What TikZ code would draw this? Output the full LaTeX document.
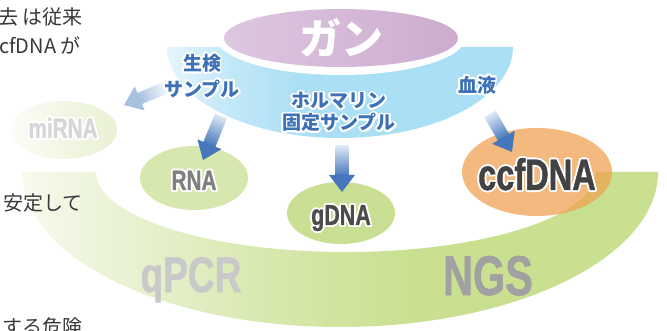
\documentclass[tikz,border=0pt]{standalone}
\usepackage{fontspec}
\usepackage{contour}
\usetikzlibrary{shapes.geometric}
\setmainfont{Noto Sans CJK JP}
\newfontfamily\jpfont{Noto Sans CJK JP}
\newfontfamily\condfont{Liberation Sans Bold}[FakeStretch=0.74,FakeBold=1]
\contourlength{1.8pt}
\contournumber{16}

% palette
\definecolor{txtgray}{HTML}{383838}
\definecolor{labblue}{HTML}{3D70B4}
\definecolor{bbpale}{HTML}{E6F5FC}
\definecolor{bbmid}{HTML}{C2E8F8}
\definecolor{bbfull}{HTML}{AADFF5}
\definecolor{purpL}{HTML}{DDC7E0}
\definecolor{purpR}{HTML}{CDACCE}
\definecolor{gbpale}{HTML}{F7FAEE}
\definecolor{gbA}{HTML}{E6F0CC}
\definecolor{gbB}{HTML}{D5E7A9}
\definecolor{gbfull}{HTML}{C8E08F}
\definecolor{mirnaL}{HTML}{FBFDF6}
\definecolor{mirnaR}{HTML}{E9F1D3}
\definecolor{rnagreen}{HTML}{D6E8AD}
\definecolor{gdnagreen}{HTML}{C9E094}
\definecolor{ccforange}{HTML}{F4B97F}
\definecolor{ovlorange}{HTML}{E3B360}
\definecolor{arrtail}{HTML}{DDE8F5}
\definecolor{arrhead}{HTML}{4677BC}
\definecolor{arrtailfade}{HTML}{F0F5FB}
\definecolor{arrheadfade}{HTML}{A7C0E0}

% band shadings (path box maps onto 25bp..75bp)
\pgfdeclarehorizontalshading{blueband}{100bp}{color(0bp)=(bbpale); color(25bp)=(bbpale); color(34bp)=(bbmid); color(45bp)=(bbfull); color(100bp)=(bbfull)}
\pgfdeclarehorizontalshading{greenband}{100bp}{color(0bp)=(gbpale); color(25bp)=(gbpale); color(35bp)=(gbA); color(46bp)=(gbB); color(56bp)=(gbfull); color(100bp)=(gbfull)}

% fat arrow with a shaded shaft and a solid head, from #1 to #2
\newcommand\gradarrow[5]{%
  \pgfpointdiff{\pgfpointanchor{#1}{center}}{\pgfpointanchor{#2}{center}}%
  \pgfgetlastxy{\arrdx}{\arrdy}%
  \pgfmathsetmacro\arrlen{veclen(\arrdx,\arrdy)}%
  \pgfmathsetmacro\arrang{atan2(\arrdy,\arrdx)}%
  \begin{scope}[transform canvas={shift={(#1)},rotate=\arrang}]
    \shade[left color=#3,right color=#4]
      (0pt,-#5pt) -- ({\arrlen pt-16pt},-#5pt) -- ({\arrlen pt-16pt},#5pt) -- (0pt,#5pt) -- cycle;
    \fill[#4] ({\arrlen pt-17pt},-13pt) -- (\arrlen pt,0pt) -- ({\arrlen pt-17pt},13pt) -- cycle;
  \end{scope}}

\begin{document}
\begin{tikzpicture}[x=1pt,y=-1pt,
  lefttext/.style={inner sep=0pt,text=txtgray,font=\jpfont\fontsize{20pt}{24pt}\selectfont},
  samplelab/.style={inner sep=0pt,align=center,text=labblue,font=\jpfont\bfseries\fontsize{19pt}{#1}\selectfont},
  blob/.style={ellipse,inner sep=0pt,draw=none},
  dnalabel/.style={inner sep=0pt,anchor=base,font=\condfont\fontsize{#1pt}{#1pt}\selectfont},
  methodlabel/.style={inner sep=0pt,anchor=base,font=\condfont\fontsize{#1pt}{#1pt}\selectfont}
]
\useasboundingbox (0,0) rectangle (667,331);

% lower green band (analysis methods)
\shade[shading=greenband] (22,172) arc[start angle=180,end angle=0,x radius=318,y radius=155]
  -- (596,172) arc[start angle=0,end angle=180,x radius=250,y radius=80] -- cycle;

% upper blue band (sample types)
\shade[shading=blueband] (167,47) arc[start angle=180,end angle=0,x radius=173,y radius=91] -- cycle;
\fill[white] (341,37) ellipse [x radius=125,y radius=38];

% cancer
\node[blob,minimum width=234pt,minimum height=58pt,left color=purpL,right color=purpR,
      text=white,font=\jpfont\bfseries\fontsize{42pt}{44pt}\selectfont] (cancer) at (341,38) {ガン};

% analytes
\node[blob,minimum width=106pt,minimum height=58pt,left color=mirnaL,right color=mirnaR] (mirna) at (64,130) {};
\node[blob,minimum width=108pt,minimum height=64pt,fill=rnagreen] (rna) at (194,178) {};
\node[blob,minimum width=108pt,minimum height=62pt,fill=gdnagreen] (gdna) at (341,213) {};
\node[blob,minimum width=150pt,minimum height=88pt,fill=ccforange] (ccfdna) at (537,172) {};
% where the orange blob lies over the green band
\begin{scope}
  \clip (537,172) ellipse [x radius=75,y radius=44];
  \fill[ovlorange] (22,172) arc[start angle=180,end angle=0,x radius=318,y radius=155]
    -- (596,172) arc[start angle=0,end angle=180,x radius=250,y radius=80] -- cycle;
\end{scope}

\node[dnalabel=28,text=black!16] (mirnatxt) at (63,138) {\contour{white}{miRNA}};
\node[dnalabel=28,text=black!50] (rnatxt) at (194,190) {\contour{white}{RNA}};
\node[dnalabel=29,text=black!70] (gdnatxt) at (341,225) {\contour{white}{gDNA}};
\node[dnalabel=44,text=black!74] (ccfdnatxt) at (537,190) {\contour{white}{ccfDNA}};

% methods
\node[methodlabel=50,text=black!21] (qpcr) at (191,292) {qPCR};
\node[methodlabel=56,text=black!37] (ngs) at (488,295) {NGS};

% arrows from sample types to analytes
\coordinate (a1t) at (165,88);  \coordinate (a1h) at (124,105);
\coordinate (a2t) at (221,116); \coordinate (a2h) at (203,160);
\coordinate (a3t) at (342,146); \coordinate (a3h) at (342,192);
\coordinate (a4t) at (490,114); \coordinate (a4h) at (512,152);
\gradarrow{a1t}{a1h}{arrtailfade}{arrheadfade}{6}
\gradarrow{a2t}{a2h}{arrtail}{arrhead}{6.5}
\gradarrow{a3t}{a3h}{arrtail}{arrhead}{6.5}
\gradarrow{a4t}{a4h}{arrtail}{arrhead}{6.5}

% sample type labels
\node[samplelab=26pt] (biopsy) at (202,77) {\contour{white}{生検}\\\contour{white}{サンプル}};
\node[samplelab=22pt] (ffpe) at (339,113) {\contour{white}{ホルマリン}\\\contour{white}{固定サンプル}};
\node[samplelab=22pt] (blood) at (477,86) {\contour{white}{血液}};

% surrounding body text
\node[lefttext,anchor=east] (t1) at (83,17) {去 は従来};
\node[lefttext,anchor=east] (t2) at (81,45) {ccfDNA が};
\node[lefttext,anchor=west] (t3) at (3,203) {安定して};
\node[lefttext,anchor=west] (t4) at (2,327) {する危険};
\end{tikzpicture}
\end{document}
